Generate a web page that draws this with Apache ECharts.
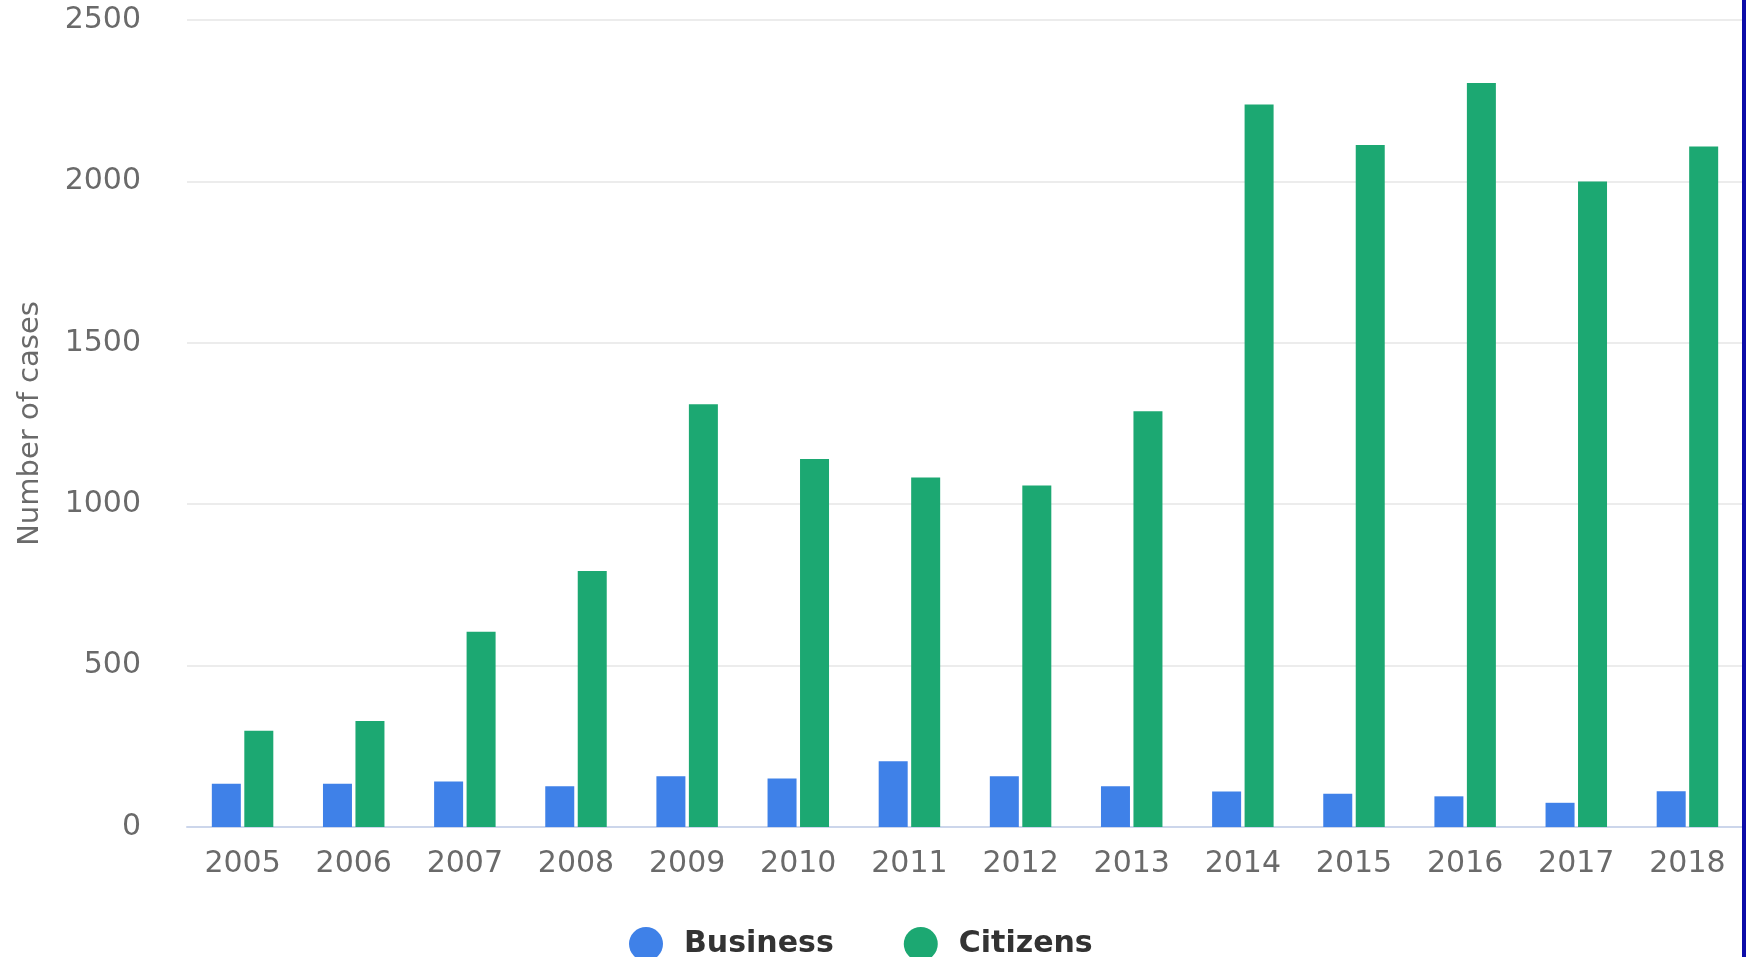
<!DOCTYPE html>
<html>
<head>
<meta charset="utf-8">
<title>Number of cases, 2005-2018</title>
<script src="https://cdn.jsdelivr.net/npm/echarts@6/dist/echarts.min.js"></script>
<style>
  html, body { margin: 0; padding: 0; background: #fff; }
  #chart { width: 1746px; height: 957px; }
  #edge { position: absolute; top: 0; right: 0; width: 4px; height: 957px; background: #0c0ca8; }
</style>
</head>
<body>
<div id="chart"></div>
<div id="edge"></div>
<script>
// values
const years = ["2005", "2006", "2007", "2008", "2009", "2010", "2011",
               "2012", "2013", "2014", "2015", "2016", "2017", "2018"];
const business = [134, 134, 141, 126, 157, 150, 204, 157, 126, 110, 103, 95, 75, 111];
const citizens = [298, 328, 605, 793, 1310, 1140, 1083, 1058, 1288, 2238, 2113, 2305, 2000, 2108];

const chart = echarts.init(document.getElementById("chart"));

const fontFamily = "DejaVu Sans";

const option = {
  backgroundColor: "#fff",
  animation: false,
  grid: {
    left: 187,
    right: 3,
    top: 20,
    bottom: 130,
  },
  legend: {
    top: 922,
    left: 624,
    icon: "circle",
    itemWidth: 34,
    itemHeight: 34,
    itemGap: 70,
    textStyle: {
      fontFamily: fontFamily,
      fontSize: 30,
      fontWeight: "bold",
      color: "#333",
      padding: [0, 0, 0, 16],
    },
    data: ["Business", "Citizens"],
  },
  xAxis: {
    type: "category",
    data: years,
    axisTick: { show: false },
    axisLine: { lineStyle: { color: "#ccd6eb", width: 2 } },
    axisLabel: {
      color: "#6a6a6a",
      fontFamily: fontFamily,
      fontSize: 30,
      margin: 22,
    },
  },
  yAxis: {
    type: "value",
    min: 0,
    max: 2500,
    interval: 500,
    name: "Number of cases",
    nameLocation: "middle",
    nameGap: 142,
    nameTextStyle: {
      color: "#6a6a6a",
      fontFamily: fontFamily,
      fontSize: 29,
    },
    axisLine: { show: false },
    axisTick: { show: false },
    splitLine: { lineStyle: { color: "#e6e6e6", width: 1.5 } },
    axisLabel: {
      color: "#6a6a6a",
      fontFamily: fontFamily,
      fontSize: 30,
      margin: 46,
      formatter: (v) => String(v), // no thousands separator
    },
  },
  series: [
    {
      name: "Business",
      type: "bar",
      data: business,
      barWidth: 29,
      barGap: "12%",
      itemStyle: { color: "#3f81e8" },
    },
    {
      name: "Citizens",
      type: "bar",
      data: citizens,
      barWidth: 29,
      itemStyle: { color: "#1ca872" },
    },
  ],
};

chart.setOption(option);
</script>
</body>
</html>
